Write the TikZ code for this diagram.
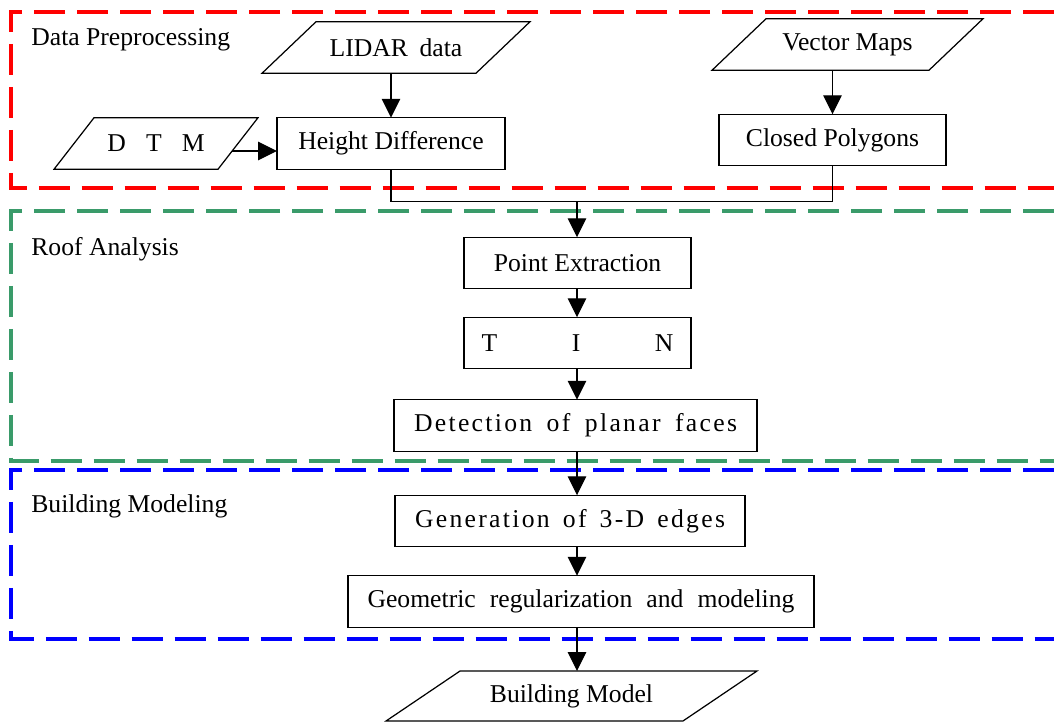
\documentclass[tikz,border=0pt]{standalone}
\usepackage{fontspec}
\setmainfont{Liberation Serif}
\newfontfamily\trackfont[LetterSpace=9]{Liberation Serif}
\usetikzlibrary{arrows.meta,calc}
\definecolor{roofgreen}{RGB}{58,155,106}
\newcommand{\spread}[2]{\makebox[#1][s]{#2}}
% parallelogram round a data node: #1 node name, #2 half of the slant (px)
\newcommand{\slantframe}[2]{%
  \draw[line width=0.7pt] ($(#1.north west)+(#2,0)$) -- ($(#1.north east)+(#2,0)$)
    -- ($(#1.south east)-(#2,0)$) -- ($(#1.south west)-(#2,0)$) -- cycle;}

\begin{document}
\begin{tikzpicture}[x=0.02cm,y=-0.02cm,
    every node/.style={font=\fontsize{14.6}{17}\selectfont},
    box/.style={draw,line width=0.7pt,inner sep=0pt,outer sep=0pt,minimum height=1.03cm},
    datanode/.style={inner sep=0pt,outer sep=0pt,minimum height=1.03cm},
    tracked/.style={font=\fontsize{14.6}{17}\trackfont},
    grouplabel/.style={anchor=base west,inner sep=0pt},
    flow/.style={line width=0.7pt,-{Triangle[length=0.38cm,width=0.37cm]}},
    frame/.style={line width=1.9pt,dash pattern=on 0.62cm off 0.24cm}]
  \useasboundingbox (0,0) rectangle (1054,723);

  % Dashed frames, open to the right
  \draw[frame,red] (1054,12) -- (11,12) -- (11,188) -- (1054,188);
  \draw[frame,roofgreen] (1054,211) -- (11,211) -- (11,461) -- (1054,461);
  \draw[frame,blue] (1054,470) -- (11,470) -- (11,639) -- (1054,639);
  \node[grouplabel] (prelabel) at (31,46) {Data Preprocessing};
  \node[grouplabel] (rooflabel) at (31,255) {Roof Analysis};
  \node[grouplabel] (buildlabel) at (31,512) {Building Modeling};

  % Data preprocessing
  \node[datanode,minimum width=4.28cm] (lidar) at (396,47.5) {LIDAR\hspace{0.45em}data};
  \node[datanode,minimum width=4.34cm] (vmaps) at (847.5,44.5) {Vector\hspace{0.25em}Maps};
  \node[datanode,minimum width=3.28cm] (dtm) at (156,143.5) {\spread{1.95cm}{D T M}};
  \slantframe{lidar}{27}
  \slantframe{vmaps}{27}
  \slantframe{dtm}{20}
  \node[box,minimum width=4.56cm] (hd) at (391,143.5) {Height Difference};
  \node[box,minimum width=4.54cm] (cp) at (832.5,140) {Closed Polygons};
  \coordinate (dtmout) at ($(dtm.east)+(-6,7.5)$);
  \draw[flow] (lidar.south -| hd.north) -- (hd.north);
  \draw[flow] (vmaps.south -| cp.north) -- (cp.north);
  \draw[flow] (dtmout) -- (dtmout -| hd.west);

  % Roof analysis
  \coordinate (join) at (577,201.5);
  \node[box,minimum width=4.54cm] (pe) at (577.5,263) {Point Extraction};
  \node[box,minimum width=4.54cm] (tin) at (577.5,343) {\spread{3.84cm}{T I N}};
  \node[box,minimum width=7.26cm,tracked] (dpf) at (575.5,425.5) {\spread{6.46cm}{Detection of planar faces}};
  \draw[line width=0.7pt] (hd.south) |- (join);
  \draw[line width=0.7pt] (cp.south) |- (join);
  \draw[flow] (join) -- (join |- pe.north);
  \draw[flow] (pe.south -| join) -- (tin.north -| join);
  \draw[flow] (tin.south -| join) -- (dpf.north -| join);

  % Building modeling
  \node[box,minimum width=7cm,tracked] (g3d) at (570,521) {\spread{6.2cm}{Generation of 3-D edges}};
  \node[box,minimum width=9.32cm] (grm) at (581,601.5) {\spread{8.54cm}{Geometric regularization and modeling}};
  \node[datanode,minimum width=5.94cm,minimum height=1cm] (bm) at (571.5,696) {Building Model};
  \slantframe{bm}{37}
  \draw[flow] (dpf.south -| join) -- (g3d.north -| join);
  \draw[flow] (g3d.south -| join) -- (grm.north -| join);
  \draw[flow] (grm.south -| join) -- (bm.north -| join);
\end{tikzpicture}
\end{document}
